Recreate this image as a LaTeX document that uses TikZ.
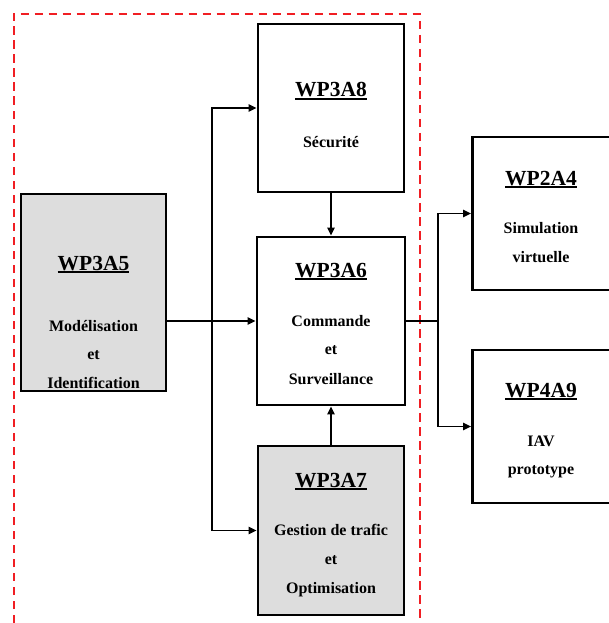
\documentclass[tikz,border=0pt]{standalone}
\usepackage{fontspec}
\setmainfont{Liberation Serif}
\usetikzlibrary{arrows.meta}
\definecolor{boxgray}{RGB}{221,221,221}
\definecolor{framered}{RGB}{240,30,35}
\newcommand\wpul[1]{\setbox0\hbox{#1}\rlap{\rule[-3pt]{\wd0}{1.6pt}}\box0}
\tikzset{
  wpbox/.style={draw=black,line width=2.6pt,minimum width=#1,inner sep=0pt},
  title/.style={anchor=base,inner sep=0pt,font=\fontsize{21.5}{24}\bfseries\selectfont},
  body/.style={anchor=base,inner sep=0pt,font=\fontsize{16}{18}\bfseries\selectfont},
  arr/.style={line width=1.9pt,-{Triangle[length=8pt,width=7pt]}},
  link/.style={line width=1.9pt},
  frame/.style={draw=framered,line width=2pt,dash pattern=on 8.5pt off 5.5pt}
}
\begin{document}
\begin{tikzpicture}[x=1pt,y=-1pt]
\useasboundingbox (0,0) rectangle (609,623);

% red dashed frame, open at the bottom
\draw[frame] (13.5,623) -- (13.5,14) -- (419.5,14) -- (419.5,623);

% boxes
\node[wpbox=146pt,minimum height=168pt] (A8) at (331,108) {};
\node[wpbox=145pt,minimum height=197pt,fill=boxgray] (A5) at (93.5,292.5) {};
\node[wpbox=148pt,minimum height=168pt] (A6) at (331,321) {};
\node[wpbox=146pt,minimum height=169pt,fill=boxgray] (A7) at (331,530.5) {};
\node[wpbox=140pt,minimum height=153pt] (A4) at (542.5,213.5) {};
\node[wpbox=140pt,minimum height=153pt] (A9) at (542.5,426.5) {};

% texts
\node[title] (t8) at (331,97) {\wpul{WP3A8}};
\node[body] (s8) at (331,147) {Sécurité};

\node[title] (t5) at (93.5,270) {\wpul{WP3A5}};
\node[body] (s5a) at (93.5,331) {Modélisation};
\node[body] (s5b) at (93.5,359) {et};
\node[body] (s5c) at (93.5,388) {Identification};

\node[title] (t6) at (331,277) {\wpul{WP3A6}};
\node[body] (s6a) at (331,326) {Commande};
\node[body] (s6b) at (331,354) {et};
\node[body] (s6c) at (331,384) {Surveillance};

\node[title] (t7) at (331,487) {\wpul{WP3A7}};
\node[body] (s7a) at (331,535) {Gestion de trafic};
\node[body] (s7b) at (331,564) {et};
\node[body] (s7c) at (331,593) {Optimisation};

\node[title] (t4) at (541,185) {\wpul{WP2A4}};
\node[body] (s4a) at (541,233) {Simulation};
\node[body] (s4b) at (541,262) {virtuelle};

\node[title] (t9) at (541,397) {\wpul{WP4A9}};
\node[body] (s9a) at (541,446) {IAV};
\node[body] (s9b) at (541,474) {prototype};

% junction points
\coordinate (jL) at (212,321);
\coordinate (jR) at (438,321);

% connectors
\draw[arr] (A5.east |- A6) -- (A6.west);
\draw[arr] (jL) |- (A8.west);
\draw[arr] (jL) |- (A7.west);
\draw[arr] (A8.south) -- (A6.north);
\draw[arr] (A7.north) -- (A6.south);
\draw[link] (A6.east) -- (jR);
\draw[arr] (jR) |- (A4.west);
\draw[arr] (jR) |- (A9.west);
\end{tikzpicture}
\end{document}
